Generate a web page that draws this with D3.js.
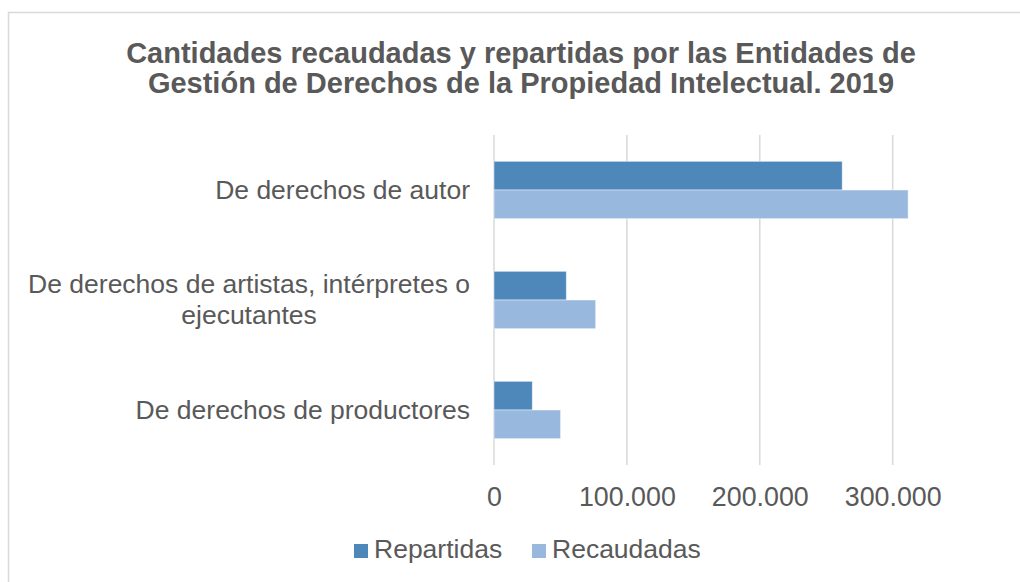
<!DOCTYPE html>
<html>
<head>
<meta charset="utf-8">
<script src="https://cdn.jsdelivr.net/npm/d3@7"></script>
<style>
  html, body { margin: 0; padding: 0; background: #fff; }
  svg { display: block; font-family: "Liberation Sans", Arial, sans-serif; }
</style>
</head>
<body>
<svg id="chart" width="1020" height="582"></svg>
<script>
const titleLines = [
  "Cantidades recaudadas y repartidas por las Entidades de",
  "Gestión de Derechos de la Propiedad Intelectual. 2019"
];
const categories = [
  "De derechos de autor",
  "De derechos de artistas, intérpretes o ejecutantes",
  "De derechos de productores"
];
const categoryLines = [
  ["De derechos de autor"],
  ["De derechos de artistas, intérpretes o", "ejecutantes"],
  ["De derechos de productores"]
];
const seriesNames = ["Repartidas", "Recaudadas"];
const repartidas = [262000, 54400, 28800];
const recaudadas = [311600, 76500, 50100];
const xTicks = [0, 100000, 200000, 300000];
const xTickLabels = ["0", "100.000", "200.000", "300.000"];
const colors = ["#4e88bb", "#98b8de"];

const svg = d3.select("#chart");
const textColor = "#595959";

// chart frame
svg.append("rect")
  .attr("x", 8.5).attr("y", 12.5)
  .attr("width", 1100).attr("height", 700)
  .attr("fill", "#fff").attr("stroke", "#d9d9d9").attr("stroke-width", 1.5);

// title
svg.append("g").selectAll("text").data(titleLines).join("text")
  .attr("x", 521).attr("y", (d, i) => 63 + i * 30)
  .attr("text-anchor", "middle")
  .attr("font-size", 29).attr("font-weight", "bold")
  .attr("fill", textColor)
  .text(d => d);

const plotTop = 135, plotBottom = 465;
const x = d3.scaleLinear().domain([0, 300000]).range([494, 892.7]);
const y = d3.scaleBand().domain(categories).range([plotTop, plotBottom]).padding(0);
const ySub = d3.scaleBand().domain(seriesNames).range([0, y.bandwidth()]).paddingInner(0).paddingOuter(0.917);

// gridlines
svg.append("g").selectAll("line").data(xTicks).join("line")
  .attr("x1", d => x(d)).attr("x2", d => x(d))
  .attr("y1", plotTop).attr("y2", plotBottom)
  .attr("stroke", "#d9d9d9").attr("stroke-width", 1.5);

// bars
const seriesData = [repartidas, recaudadas];
seriesNames.forEach((s, si) => {
  svg.append("g").selectAll("rect").data(categories).join("rect")
    .attr("x", x(0))
    .attr("y", c => y(c) + ySub(s))
    .attr("width", (c, i) => x(seriesData[si][i]) - x(0))
    .attr("height", ySub.bandwidth())
    .attr("fill", colors[si])
    .attr("stroke", "#ffffff").attr("stroke-opacity", 0.6).attr("stroke-width", 0.75);
});

// x tick labels
const xAxis = d3.axisBottom(x).tickValues(xTicks).tickSize(0).tickPadding(0)
  .tickFormat((d, i) => xTickLabels[i]);
const gx = svg.append("g").attr("transform", `translate(0, ${plotBottom})`).call(xAxis);
gx.select(".domain").remove();
gx.selectAll("text").attr("font-size", 26.8).attr("fill", textColor)
  .attr("font-family", "Liberation Sans, Arial, sans-serif")
  .attr("dy", null).attr("y", 40.5);

// category labels
const catSize = 26.5;
categories.forEach((c, i) => {
  const lines = categoryLines[i];
  const cy = y(c) + y.bandwidth() / 2;
  const lh = 31;
  const g = svg.append("g");
  const t0 = g.append("text")
    .attr("x", 470).attr("y", cy - (lines.length - 1) * lh / 2 + 8.5)
    .attr("text-anchor", "end").attr("font-size", catSize).attr("fill", textColor)
    .text(lines[0]);
  if (lines.length > 1) {
    const w = t0.node().getComputedTextLength();
    for (let k = 1; k < lines.length; k++) {
      g.append("text")
        .attr("x", 470 - w / 2).attr("y", cy - (lines.length - 1) * lh / 2 + 8.5 + k * lh)
        .attr("text-anchor", "middle").attr("font-size", catSize).attr("fill", textColor)
        .text(lines[k]);
    }
  }
});

// legend
const legendX = [354, 532];
const lg = svg.append("g");
seriesNames.forEach((s, i) => {
  lg.append("rect").attr("x", legendX[i]).attr("y", 544).attr("width", 14).attr("height", 14)
    .attr("fill", colors[i]);
  lg.append("text").attr("x", legendX[i] + 20).attr("y", 558)
    .attr("font-size", 26.5).attr("fill", textColor).text(s);
});
</script>
</body>
</html>
